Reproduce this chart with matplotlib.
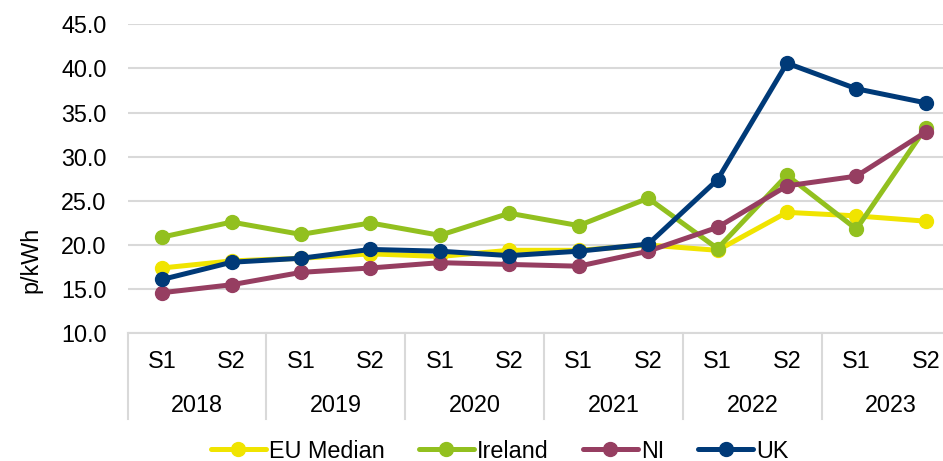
import matplotlib.pyplot as plt
import matplotlib.transforms as mtransforms
from matplotlib.lines import Line2D

plt.rcParams['font.family'] = ['Liberation Sans', 'DejaVu Sans']

years = ['2018', '2019', '2020', '2021', '2022', '2023']
halves = ['S1', 'S2']

eu_median = [17.4, 18.2, 18.5, 19.0, 18.7, 19.4, 19.4, 20.0, 19.4, 23.7, 23.3, 22.7]
ireland = [20.9, 22.6, 21.2, 22.5, 21.1, 23.6, 22.2, 25.3, 19.6, 27.9, 21.8, 33.3]
ni = [14.6, 15.5, 16.9, 17.4, 18.0, 17.8, 17.6, 19.3, 22.0, 26.7, 27.8, 32.8]
uk = [16.1, 18.05, 18.5, 19.5, 19.3, 18.8, 19.3, 20.1, 27.4, 40.6, 37.7, 36.1]

series = [('EU Median', eu_median, '#F0E400'),
          ('Ireland', ireland, '#92C01F'),
          ('NI', ni, '#963E61'),
          ('UK', uk, '#003A78')]

FS = 16.8
W, H = 943, 461
fig = plt.figure(figsize=(W / 100, H / 100), dpi=100)
left, right, bottom, top = 127.5, 960.5, 333.3, 24.3
ax = fig.add_axes([left / W, 1 - bottom / H, (right - left) / W, (bottom - top) / H])

x = list(range(len(years) * len(halves)))
for name, vals, col in series:
    ax.plot(x, vals, color=col, lw=3.6, marker='o', ms=10, label=name,
            solid_capstyle='round', zorder=3)

ax.set_xlim(-0.5, len(x) - 0.5)
ax.set_ylim(10, 45)
ax.set_yticks([10, 15, 20, 25, 30, 35, 40, 45])
ax.set_yticklabels(['%.1f' % v for v in ax.get_yticks()], fontsize=FS)
ax.yaxis.grid(True, color='#D9D9D9', lw=1.5)
ax.set_axisbelow(True)
ax.tick_params(axis='y', length=0, pad=15)
ax.tick_params(axis='x', length=0, labelbottom=False)
for s in ['top', 'right', 'left']:
    ax.spines[s].set_visible(False)
ax.spines['bottom'].set_color('#D9D9D9')
ax.spines['bottom'].set_linewidth(1.5)
fig.text(31 / W, 1 - 260 / H, 'p/kWh', rotation=90, ha='center', va='center', fontsize=FS)

# two-level category labels
trans = mtransforms.blended_transform_factory(ax.transData, ax.transAxes)
ax_h = bottom - top
def ay(py):
    return (bottom - py) / ax_h

for i in x:
    ax.text(i, ay(361.5), halves[i % 2], transform=trans, ha='center', va='center', fontsize=FS)
for j, yr in enumerate(years):
    ax.text(j * 2 + 0.5, ay(405), yr, transform=trans, ha='center', va='center', fontsize=FS)
for j in range(len(years) + 1):
    xs = j * 2 - 0.5
    ax.add_line(Line2D([xs, xs], [ay(333.3), ay(419)], transform=trans, color='#D9D9D9',
                       lw=1.5, clip_on=False))

fig.legend(loc='center', bbox_to_anchor=(500 / W, 1 - 451 / H), ncol=4, frameon=False,
           fontsize=FS, handlelength=2.35, handletextpad=0.15, columnspacing=1.45)

fig.savefig('out.png', dpi=100)
